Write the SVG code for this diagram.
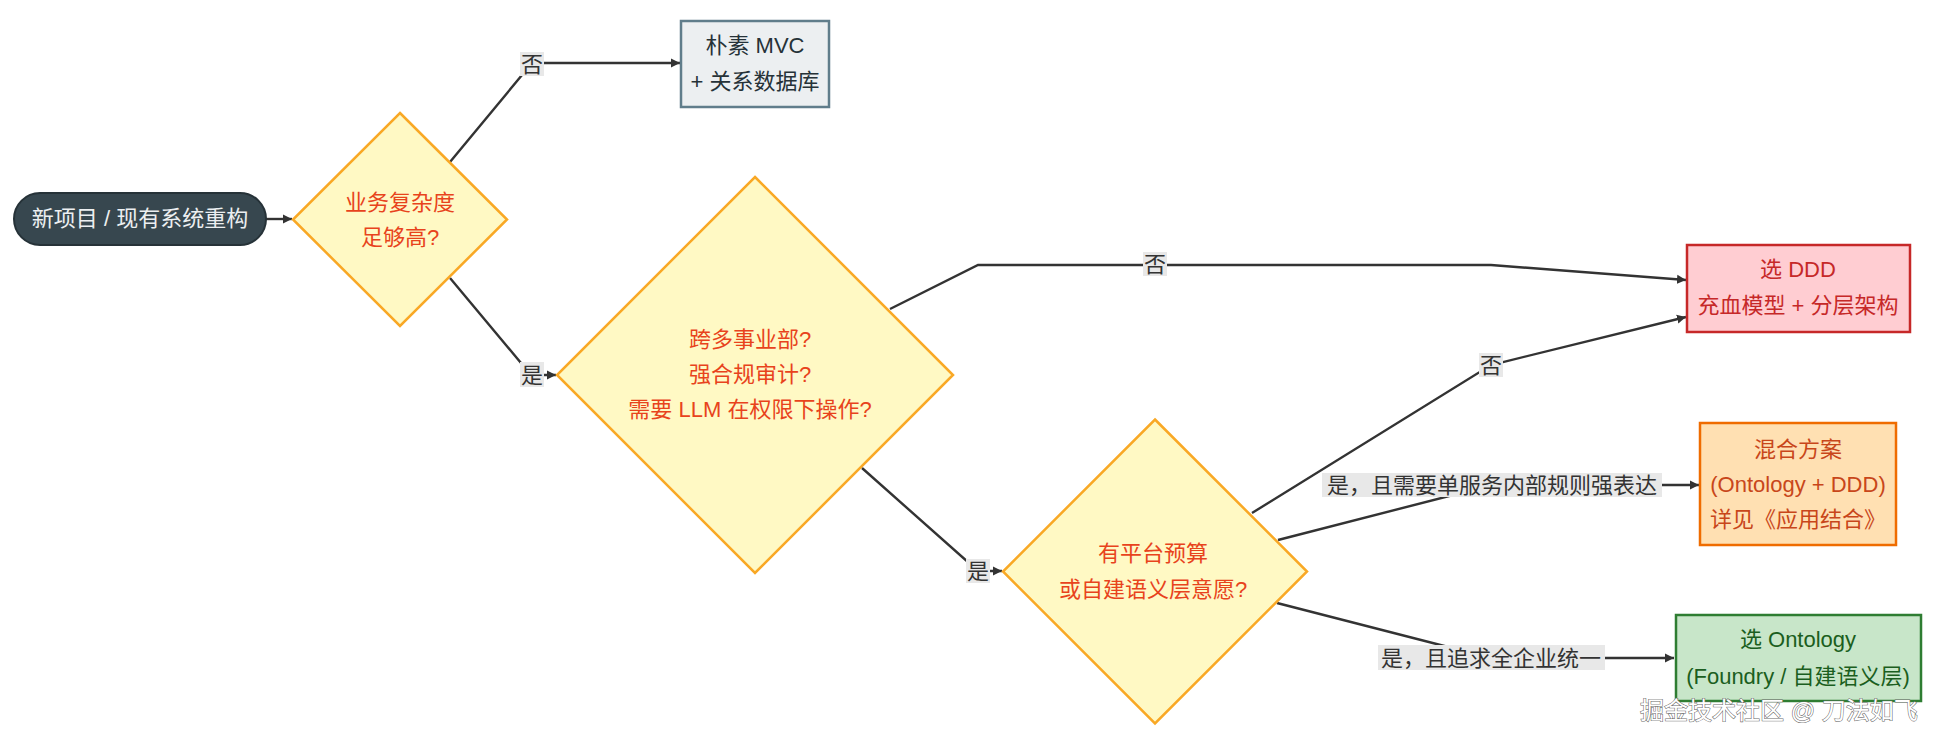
<svg xmlns="http://www.w3.org/2000/svg" width="1948" height="744" viewBox="0 0 1948 744">
<style>
text{font-family:"Liberation Sans","Noto Sans CJK SC",sans-serif;font-size:22px;text-anchor:middle}
.edge{fill:none;stroke:#333333;stroke-width:2.4}
.lbl rect{fill:#e8e8e8}
.lbl text{fill:#333333}
.dia polygon{fill:#fff9c4;stroke:#f9a825;stroke-width:2.5}
.dia text{fill:#e8431c}
</style>
<defs>
<marker id="arr" markerUnits="userSpaceOnUse" markerWidth="10" markerHeight="10" refX="9" refY="5" orient="auto">
<path d="M0,0.5 L9,5 L0,9.5 z" fill="#333333"/>
</marker>
</defs>
<rect width="1948" height="744" fill="#ffffff"/>
<g id="connectors">
<path class="edge" d="M266,219 L292,219" marker-end="url(#arr)"/>
<path class="edge" d="M450,162 L532,63 L680,63" marker-end="url(#arr)"/>
<path class="edge" d="M450,278 L531,375 L556,375" marker-end="url(#arr)"/>
<path class="edge" d="M890,309 L978,265 L1491,265 L1686,280" marker-end="url(#arr)"/>
<path class="edge" d="M862,468 L978,571 L1002,571" marker-end="url(#arr)"/>
<path class="edge" d="M1252,513 L1491,365 L1686,317" marker-end="url(#arr)"/>
<path class="edge" d="M1278,540 L1492,485 L1699,485" marker-end="url(#arr)"/>
<path class="edge" d="M1277,603 L1491,658 L1674,658" marker-end="url(#arr)"/>
<g class="lbl"><rect x="520" y="52" width="24" height="24"/><text x="532" y="72">否</text></g>
<g class="lbl"><rect x="520" y="362" width="24" height="25"/><text x="532" y="383">是</text></g>
<g class="lbl"><rect x="1143" y="252" width="24" height="24"/><text x="1155" y="272">否</text></g>
<g class="lbl"><rect x="966" y="559" width="24" height="24"/><text x="978" y="579">是</text></g>
<g class="lbl"><rect x="1479" y="353" width="24" height="24"/><text x="1491" y="373">否</text></g>
<g class="lbl"><rect x="1322" y="473" width="340" height="24"/><text x="1492" y="493">是，且需要单服务内部规则强表达</text></g>
<g class="lbl"><rect x="1378" y="645" width="227" height="25"/><text x="1491" y="666">是，且追求全企业统一</text></g>
</g>
<g id="start">
<rect x="14" y="193" width="252" height="52" rx="26" fill="#37474f" stroke="#263238" stroke-width="2"/>
<text x="140" y="226" fill="#eceff1">新项目 / 现有系统重构</text>
</g>
<g id="q1" class="dia">
<polygon points="400,113 507,219.5 400,326 293,219.5"/>
<text x="400" y="210">业务复杂度</text>
<text x="400" y="245">足够高?</text>
</g>
<g id="mvc">
<rect x="681" y="21" width="148" height="86" fill="#eceff1" stroke="#607d8b" stroke-width="2.5"/>
<text x="755" y="52.5" fill="#263238">朴素 MVC</text>
<text x="755" y="89" fill="#263238">+ 关系数据库</text>
</g>
<g id="q2" class="dia">
<polygon points="755,177 953,375 755,573 557,375"/>
<text x="750" y="347">跨多事业部?</text>
<text x="750" y="382">强合规审计?</text>
<text x="750" y="417">需要 LLM 在权限下操作?</text>
</g>
<g id="q3" class="dia">
<polygon points="1155,419.5 1307,571.5 1155,723.5 1003,571.5"/>
<text x="1153" y="561">有平台预算</text>
<text x="1153" y="597">或自建语义层意愿?</text>
</g>
<g id="ddd">
<rect x="1687" y="245" width="223" height="87" fill="#ffcdd2" stroke="#c62828" stroke-width="2.5"/>
<text x="1798" y="277" fill="#c62828">选 DDD</text>
<text x="1798" y="313" fill="#c62828">充血模型 + 分层架构</text>
</g>
<g id="hybrid">
<rect x="1700" y="423" width="196" height="122" fill="#ffe0b2" stroke="#ef6c00" stroke-width="2.5"/>
<text x="1798" y="457" fill="#c8461a">混合方案</text>
<text x="1798" y="492" fill="#c8461a">(Ontology + DDD)</text>
<text x="1798" y="527" fill="#c8461a">详见《应用结合》</text>
</g>
<g id="ontology">
<rect x="1676" y="615" width="245" height="86" fill="#c8e6c9" stroke="#2e7d32" stroke-width="2.5"/>
<text x="1798" y="647" fill="#1b5e20">选 Ontology</text>
<text x="1798" y="684" fill="#1b5e20">(Foundry / 自建语义层)</text>
</g>
<text x="1640" y="719" style="text-anchor:start;font-size:24px" fill="#ffffff" stroke="#6a6a6a" stroke-width="1.1" paint-order="stroke">掘金技术社区 @ 刀法如飞</text>
</svg>
